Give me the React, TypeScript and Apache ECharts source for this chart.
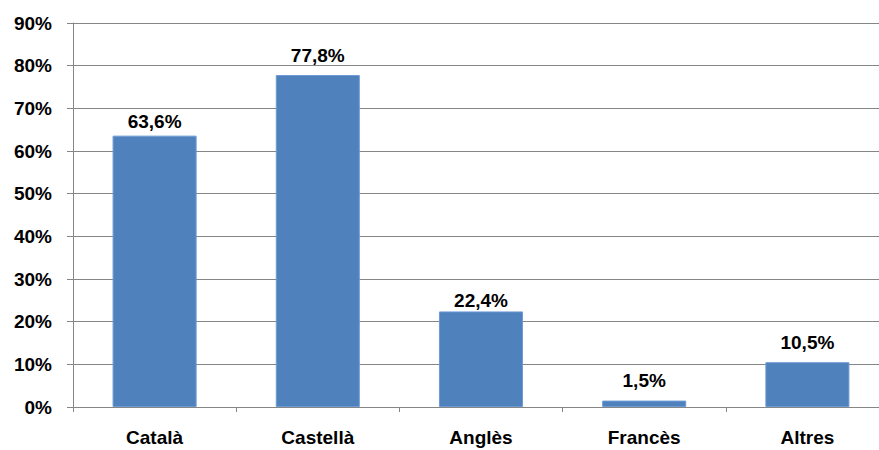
import React, { useEffect, useRef } from "react";
import * as echarts from "echarts";

const categories = ["Català", "Castellà", "Anglès", "Francès", "Altres"];
const values = [63.6, 77.8, 22.4, 1.5, 10.5];
const yMin = 0;
const yMax = 90;
const yInterval = 10;

// label placement (as in the original, labels sit at uneven heights)
const labelDistances = [5, 10, 1, 11, 10];

export default function App() {
  const ref = useRef<HTMLDivElement>(null);
  useEffect(() => {
    if (!ref.current) return;
    const chart = echarts.init(ref.current, null, { renderer: "svg" });
    const font = "'Liberation Sans', Arial, sans-serif";
    chart.setOption({
      animation: false,
      grid: { left: 73, top: 23, bottom: 43, right: 0 },
      xAxis: {
        type: "category",
        data: categories,
        axisLine: { lineStyle: { color: "#868686", width: 1 } },
        axisTick: { show: true, length: 5, lineStyle: { color: "#868686" } },
        axisLabel: {
          margin: 21,
          color: "#000",
          fontSize: 19,
          fontWeight: "bold",
          fontFamily: font,
        },
      },
      yAxis: {
        type: "value",
        min: yMin,
        max: yMax,
        interval: yInterval,
        axisLine: { show: true, lineStyle: { color: "#868686", width: 1 } },
        axisTick: { show: true, length: 6, lineStyle: { color: "#868686" } },
        splitLine: { show: true, lineStyle: { color: "#868686", width: 1 } },
        axisLabel: {
          formatter: "{value}%",
          margin: 21,
          color: "#000",
          fontSize: 19,
          fontWeight: "bold",
          fontFamily: font,
        },
      },
      series: [
        {
          type: "bar",
          data: values.map((v, i) => ({
            value: v,
            label: { distance: labelDistances[i] },
          })),
          barWidth: "51.5%",
          itemStyle: { color: "#4F81BD", borderColor: "#6C9BD6", borderWidth: 1 },
          label: {
            show: true,
            position: "top",
            color: "#000",
            fontSize: 19,
            fontWeight: "bold",
            fontFamily: font,
            formatter: (p: any) => String(p.value).replace(".", ",") + "%",
          },
        },
      ],
    });
    return () => chart.dispose();
  }, []);
  return (
    <div
      style={{
        position: "absolute",
        left: 0,
        top: 0,
        width: 879,
        height: 450,
        overflow: "hidden",
      }}
    >
      <div ref={ref} style={{ width: 889, height: 450 }} />
    </div>
  );
}
